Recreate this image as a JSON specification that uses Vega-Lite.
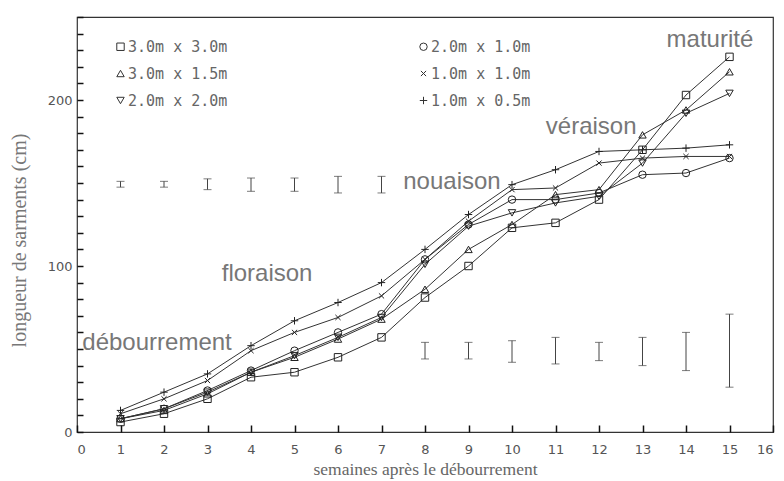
{
  "$schema": "https://vega.github.io/schema/vega-lite/v6.json",
  "width": 696,
  "height": 415,
  "autosize": "none",
  "padding": {"left": 77, "top": 17, "right": 11, "bottom": 49},
  "background": "white",
  "config": {
    "view": {"stroke": "#333", "strokeWidth": 1.2, "fill": "transparent"}
  },
  "resolve": {"axis": {"y": "independent"}},
  "datasets": {
    "series": [
      {"week": 1, "value": 6, "series": "3.0m x 3.0m"},
      {"week": 2, "value": 11, "series": "3.0m x 3.0m"},
      {"week": 3, "value": 20, "series": "3.0m x 3.0m"},
      {"week": 4, "value": 33, "series": "3.0m x 3.0m"},
      {"week": 5, "value": 36, "series": "3.0m x 3.0m"},
      {"week": 6, "value": 45, "series": "3.0m x 3.0m"},
      {"week": 7, "value": 57, "series": "3.0m x 3.0m"},
      {"week": 8, "value": 81, "series": "3.0m x 3.0m"},
      {"week": 9, "value": 100, "series": "3.0m x 3.0m"},
      {"week": 10, "value": 123, "series": "3.0m x 3.0m"},
      {"week": 11, "value": 126, "series": "3.0m x 3.0m"},
      {"week": 12, "value": 140, "series": "3.0m x 3.0m"},
      {"week": 13, "value": 170, "series": "3.0m x 3.0m"},
      {"week": 14, "value": 203, "series": "3.0m x 3.0m"},
      {"week": 15, "value": 226, "series": "3.0m x 3.0m"},
      {"week": 1, "value": 8, "series": "3.0m x 1.5m"},
      {"week": 2, "value": 13, "series": "3.0m x 1.5m"},
      {"week": 3, "value": 23, "series": "3.0m x 1.5m"},
      {"week": 4, "value": 36, "series": "3.0m x 1.5m"},
      {"week": 5, "value": 45, "series": "3.0m x 1.5m"},
      {"week": 6, "value": 56, "series": "3.0m x 1.5m"},
      {"week": 7, "value": 68, "series": "3.0m x 1.5m"},
      {"week": 8, "value": 86, "series": "3.0m x 1.5m"},
      {"week": 9, "value": 110, "series": "3.0m x 1.5m"},
      {"week": 10, "value": 125, "series": "3.0m x 1.5m"},
      {"week": 11, "value": 143, "series": "3.0m x 1.5m"},
      {"week": 12, "value": 146, "series": "3.0m x 1.5m"},
      {"week": 13, "value": 179, "series": "3.0m x 1.5m"},
      {"week": 14, "value": 194, "series": "3.0m x 1.5m"},
      {"week": 15, "value": 217, "series": "3.0m x 1.5m"},
      {"week": 1, "value": 8, "series": "2.0m x 2.0m"},
      {"week": 2, "value": 14, "series": "2.0m x 2.0m"},
      {"week": 3, "value": 24, "series": "2.0m x 2.0m"},
      {"week": 4, "value": 36, "series": "2.0m x 2.0m"},
      {"week": 5, "value": 46, "series": "2.0m x 2.0m"},
      {"week": 6, "value": 57, "series": "2.0m x 2.0m"},
      {"week": 7, "value": 69, "series": "2.0m x 2.0m"},
      {"week": 8, "value": 101, "series": "2.0m x 2.0m"},
      {"week": 9, "value": 124, "series": "2.0m x 2.0m"},
      {"week": 10, "value": 132, "series": "2.0m x 2.0m"},
      {"week": 11, "value": 138, "series": "2.0m x 2.0m"},
      {"week": 12, "value": 142, "series": "2.0m x 2.0m"},
      {"week": 13, "value": 162, "series": "2.0m x 2.0m"},
      {"week": 14, "value": 192, "series": "2.0m x 2.0m"},
      {"week": 15, "value": 204, "series": "2.0m x 2.0m"},
      {"week": 1, "value": 8, "series": "2.0m x 1.0m"},
      {"week": 2, "value": 14, "series": "2.0m x 1.0m"},
      {"week": 3, "value": 25, "series": "2.0m x 1.0m"},
      {"week": 4, "value": 37, "series": "2.0m x 1.0m"},
      {"week": 5, "value": 49, "series": "2.0m x 1.0m"},
      {"week": 6, "value": 60, "series": "2.0m x 1.0m"},
      {"week": 7, "value": 71, "series": "2.0m x 1.0m"},
      {"week": 8, "value": 104, "series": "2.0m x 1.0m"},
      {"week": 9, "value": 125, "series": "2.0m x 1.0m"},
      {"week": 10, "value": 140, "series": "2.0m x 1.0m"},
      {"week": 11, "value": 140, "series": "2.0m x 1.0m"},
      {"week": 12, "value": 144, "series": "2.0m x 1.0m"},
      {"week": 13, "value": 155, "series": "2.0m x 1.0m"},
      {"week": 14, "value": 156, "series": "2.0m x 1.0m"},
      {"week": 15, "value": 165, "series": "2.0m x 1.0m"},
      {"week": 1, "value": 11, "series": "1.0m x 1.0m"},
      {"week": 2, "value": 20, "series": "1.0m x 1.0m"},
      {"week": 3, "value": 31, "series": "1.0m x 1.0m"},
      {"week": 4, "value": 49, "series": "1.0m x 1.0m"},
      {"week": 5, "value": 60, "series": "1.0m x 1.0m"},
      {"week": 6, "value": 69, "series": "1.0m x 1.0m"},
      {"week": 7, "value": 82, "series": "1.0m x 1.0m"},
      {"week": 8, "value": 104, "series": "1.0m x 1.0m"},
      {"week": 9, "value": 127, "series": "1.0m x 1.0m"},
      {"week": 10, "value": 146, "series": "1.0m x 1.0m"},
      {"week": 11, "value": 147, "series": "1.0m x 1.0m"},
      {"week": 12, "value": 162, "series": "1.0m x 1.0m"},
      {"week": 13, "value": 165, "series": "1.0m x 1.0m"},
      {"week": 14, "value": 166, "series": "1.0m x 1.0m"},
      {"week": 15, "value": 166, "series": "1.0m x 1.0m"},
      {"week": 1, "value": 13, "series": "1.0m x 0.5m"},
      {"week": 2, "value": 24, "series": "1.0m x 0.5m"},
      {"week": 3, "value": 35, "series": "1.0m x 0.5m"},
      {"week": 4, "value": 52, "series": "1.0m x 0.5m"},
      {"week": 5, "value": 67, "series": "1.0m x 0.5m"},
      {"week": 6, "value": 78, "series": "1.0m x 0.5m"},
      {"week": 7, "value": 90, "series": "1.0m x 0.5m"},
      {"week": 8, "value": 110, "series": "1.0m x 0.5m"},
      {"week": 9, "value": 131, "series": "1.0m x 0.5m"},
      {"week": 10, "value": 149, "series": "1.0m x 0.5m"},
      {"week": 11, "value": 158, "series": "1.0m x 0.5m"},
      {"week": 12, "value": 169, "series": "1.0m x 0.5m"},
      {"week": 13, "value": 170, "series": "1.0m x 0.5m"},
      {"week": 14, "value": 171, "series": "1.0m x 0.5m"},
      {"week": 15, "value": 173, "series": "1.0m x 0.5m"}
    ],
    "err": [
      {"week": 1, "lo": 147.5, "hi": 151},
      {"week": 2, "lo": 147.5, "hi": 151},
      {"week": 3, "lo": 146, "hi": 152.5},
      {"week": 4, "lo": 145, "hi": 153},
      {"week": 5, "lo": 145, "hi": 153},
      {"week": 6, "lo": 144, "hi": 154},
      {"week": 7, "lo": 144, "hi": 154},
      {"week": 8, "lo": 44, "hi": 54},
      {"week": 9, "lo": 44, "hi": 54},
      {"week": 10, "lo": 42, "hi": 55},
      {"week": 11, "lo": 41, "hi": 57},
      {"week": 12, "lo": 43, "hi": 54},
      {"week": 13, "lo": 40, "hi": 57},
      {"week": 14, "lo": 37, "hi": 60},
      {"week": 15, "lo": 27, "hi": 71}
    ],
    "ann": [
      {"week": 1.84, "value": 53.5, "label": "débourrement"},
      {"week": 4.37, "value": 95, "label": "floraison"},
      {"week": 8.62, "value": 150.5, "label": "nouaison"},
      {"week": 11.82, "value": 183.5, "label": "véraison"},
      {"week": 14.55, "value": 236, "label": "maturité"}
    ]
  },
  "layer": [
    {
      "data": {"name": "series"},
      "mark": {"type": "line", "color": "#333", "strokeWidth": 1},
      "encoding": {
        "x": {"field": "week", "type": "quantitative", "scale": {"domain": [0, 16], "nice": false, "zero": false},
          "axis": {"title": "semaines après le débourrement", "grid": false, "domain": false, "values": [0,1,2,3,4,5,6,7,8,9,10,11,12,13,14,15,16], "zindex": 2, "offset": -7, "tickSize": 7, "tickWidth": 1.5, "tickColor": "#111", "labelPadding": 11, "labelFont": "DejaVu Sans", "labelFontSize": 13, "labelColor": "#555", "titleFont": "Liberation Serif", "titleFontSize": 17.5, "titleFontWeight": "normal", "titleColor": "#666", "titlePadding": 4}},
        "y": {"field": "value", "type": "quantitative", "scale": {"domain": [0, 250], "nice": false},
          "axis": {"orient": "left", "grid": false, "domain": false, "title": "longueur de sarments (cm)", "values": [0, 100, 200], "ticks": false, "labelPadding": 5, "labelFont": "DejaVu Sans", "labelFontSize": 13, "labelColor": "#555", "titleFont": "Liberation Serif", "titleFontSize": 20, "titleFontWeight": "normal", "titleColor": "#777", "titleX": -48, "titleY": 223}},
        "detail": {"field": "series"}
      }
    },
    {
      "data": {"name": "err"},
      "mark": {"type": "errorbar", "ticks": {"size": 8, "color": "#444"}, "rule": {"color": "#444", "strokeWidth": 1}},
      "encoding": {
        "x": {"field": "week", "type": "quantitative"},
        "y": {"field": "lo", "type": "quantitative",
          "axis": {"orient": "left", "grid": false, "domain": false, "title": null, "labels": false, "values": [0,10,20,30,40,50,60,70,80,90,100,110,120,130,140,150,160,170,180,190,200,210,220,230,240,250], "zindex": 2, "offset": -6, "tickSize": 6, "tickWidth": 1.5, "tickColor": "#111"}},
        "y2": {"field": "hi"}
      }
    },
    {
      "data": {"name": "series"},
      "mark": {"type": "point", "filled": false, "color": "#222", "strokeWidth": 1, "size": 55, "opacity": 1},
      "encoding": {
        "x": {"field": "week", "type": "quantitative"},
        "y": {"field": "value", "type": "quantitative", "axis": null},
        "shape": {"field": "series", "type": "nominal",
          "scale": {"domain": ["3.0m x 3.0m", "3.0m x 1.5m", "2.0m x 2.0m", "2.0m x 1.0m", "1.0m x 1.0m", "1.0m x 0.5m"],
                    "range": ["square", "triangle-up", "triangle-down", "circle", "M-0.7,-0.7L0.7,0.7M-0.7,0.7L0.7,-0.7", "M-1,0L1,0M0,-1L0,1"]},
          "legend": {"title": null, "orient": "none", "legendX": 36, "legendY": 22, "columns": 2, "columnPadding": 188, "rowPadding": 11, "symbolSize": 55, "symbolStrokeWidth": 1, "symbolStrokeColor": "#333", "labelFont": "DejaVu Sans Mono", "labelFontSize": 15, "labelColor": "#666", "labelOffset": 0}}
      }
    },
    {
      "data": {"name": "ann"},
      "mark": {"type": "text", "font": "Liberation Sans", "fontSize": 24, "color": "#777", "align": "center", "baseline": "middle"},
      "encoding": {
        "x": {"field": "week", "type": "quantitative"},
        "y": {"field": "value", "type": "quantitative", "axis": null},
        "text": {"field": "label"}
      }
    }
  ]
}
